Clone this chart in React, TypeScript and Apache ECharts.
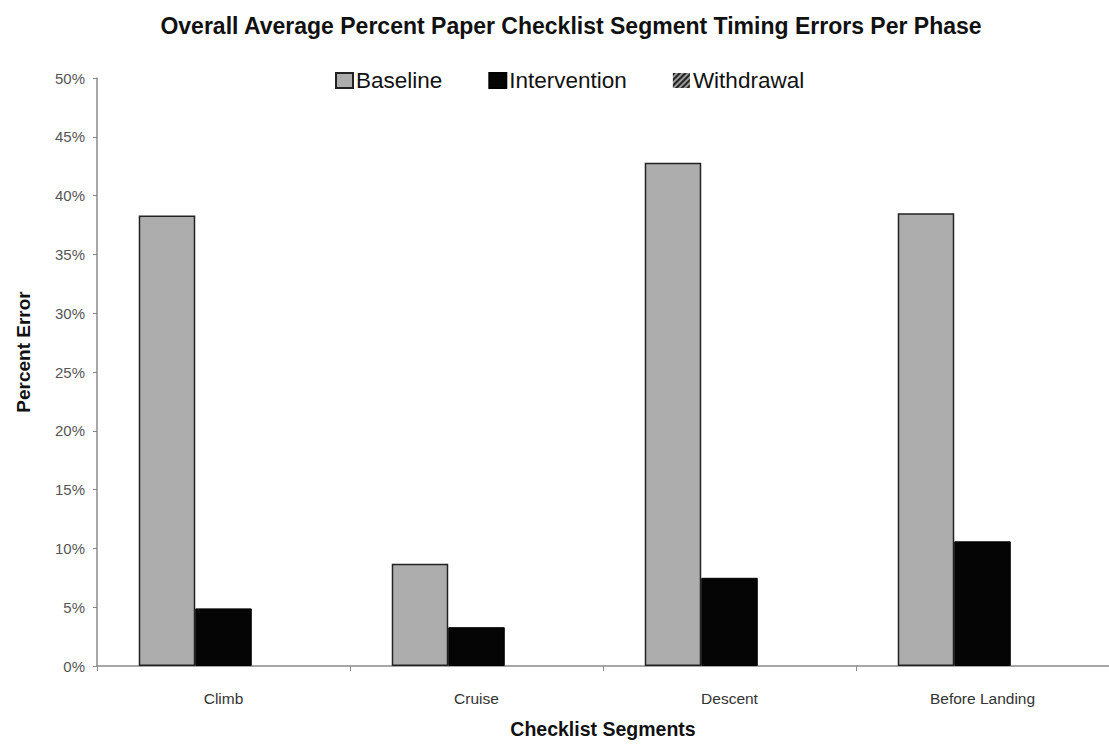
import React, { useEffect, useRef } from "react";
import * as echarts from "echarts";

const categories = ["Climb", "Cruise", "Descent", "Before Landing"];
const baseline = [38.3, 8.7, 42.8, 38.5];
const intervention = [4.9, 3.3, 7.5, 10.6];
const withdrawal = [0, 0, 0, 0];
const seriesNames = ["Baseline", "Intervention", "Withdrawal"];

const FONT = "'Liberation Sans', Arial, sans-serif";

export default function App() {
  const ref = useRef<HTMLDivElement>(null);
  useEffect(() => {
    if (!ref.current) return;
    const chart = echarts.init(ref.current, null, { renderer: "svg" });
    chart.setOption({
      animation: false,
      backgroundColor: "#ffffff",
      textStyle: { fontFamily: FONT },
      title: {
        text: "Overall Average Percent Paper Checklist Segment Timing Errors Per Phase",
        left: 566,
        textAlign: "center",
        top: 9,
        textStyle: { fontFamily: FONT, fontSize: 23, fontWeight: "bold", color: "#111" },
      },
      legend: {
        left: 330,
        top: 64,
        itemWidth: 17,
        itemHeight: 15,
        itemGap: 46,
        icon: "rect",
        textStyle: { fontFamily: FONT, fontSize: 22.5, color: "#111", padding: [0, 0, 0, -2] },
        data: seriesNames,
      },
      grid: { left: 97, right: -6, top: 78, bottom: 72, containLabel: false },
      xAxis: {
        type: "category",
        data: categories,
        name: "Checklist Segments",
        nameLocation: "middle",
        nameGap: 53,
        nameTextStyle: { fontFamily: FONT, fontSize: 19.5, fontWeight: "bold", color: "#111" },
        axisLine: { lineStyle: { color: "#8a8a8a", width: 1.5 } },
        axisTick: { show: true, length: 5, lineStyle: { color: "#8a8a8a" } },
        axisLabel: { margin: 24, fontFamily: FONT, fontSize: 15.5, color: "#333" },
      },
      yAxis: {
        type: "value",
        min: 0,
        max: 50,
        interval: 5,
        name: "Percent Error",
        nameLocation: "middle",
        nameGap: 64,
        nameTextStyle: { fontFamily: FONT, fontSize: 19, fontWeight: "bold", color: "#111", padding: [0, 0, 0, 40] },
        axisLine: { show: true, lineStyle: { color: "#8a8a8a", width: 1.5 } },
        axisTick: { show: true, length: 4, lineStyle: { color: "#8a8a8a" } },
        splitLine: { show: false },
        axisLabel: { formatter: "{value}%", margin: 12, fontFamily: FONT, fontSize: 15, color: "#555" },
      },
      series: [
        {
          name: seriesNames[0],
          type: "bar",
          data: baseline,
          barGap: "0%",
          barCategoryGap: "33%",
          itemStyle: { color: "#adadad", borderColor: "#222", borderWidth: 1.5 },
        },
        {
          name: seriesNames[1],
          type: "bar",
          data: intervention,
          itemStyle: { color: "#050505", borderColor: "#000", borderWidth: 1 },
        },
        {
          name: seriesNames[2],
          type: "bar",
          data: withdrawal,
          itemStyle: {
            color: "#9a9a9a",
            borderColor: "#222",
            borderWidth: 0,
            decal: {
              symbol: "rect",
              color: "#222",
              dashArrayX: [1, 0],
              dashArrayY: [2, 2],
              rotation: -Math.PI / 4,
            },
          },
        },
      ],
    });
    return () => chart.dispose();
  }, []);
  return (
    <div
      ref={ref}
      style={{ position: "absolute", left: 0, top: 0, width: 1109, height: 744 }}
    />
  );
}
